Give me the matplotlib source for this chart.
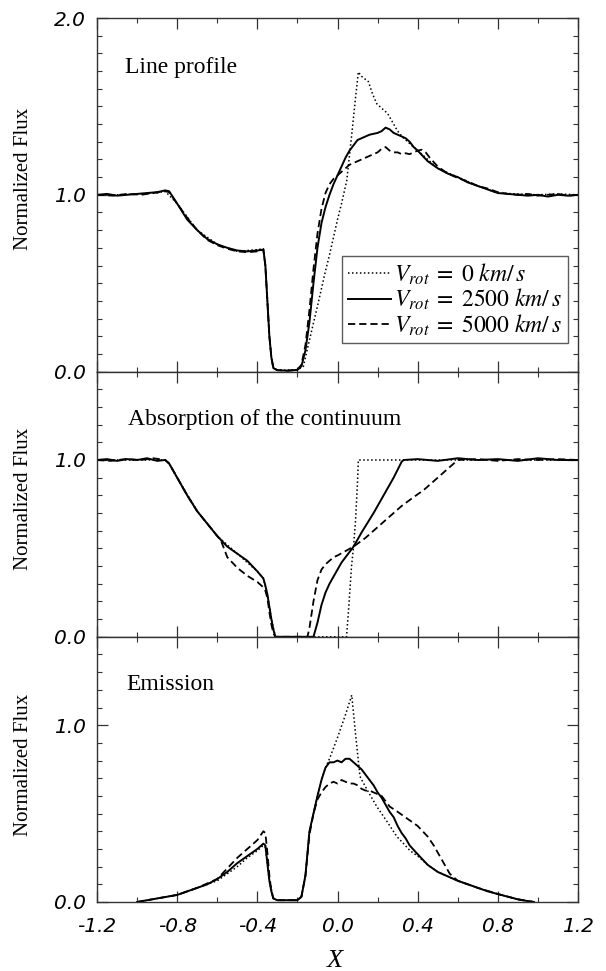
import matplotlib
matplotlib.use("Agg")
import matplotlib.pyplot as plt
from matplotlib.ticker import MultipleLocator, FixedLocator, FormatStrFormatter

# ---------------- data ----------------
# Panel 1: line profile
lp_x_2500 = [-1.2, -1.15, -1.1, -1.05, -1.0, -0.95, -0.9, -0.86, -0.84, -0.8, -0.75, -0.7, -0.65, -0.6,
             -0.55, -0.5, -0.45, -0.4, -0.37, -0.36, -0.35, -0.34, -0.33, -0.32, -0.3, -0.25, -0.2,
             -0.18, -0.16, -0.14, -0.12, -0.1, -0.08, -0.06, -0.04, -0.02, 0.0, 0.02, 0.04, 0.06,
             0.08, 0.1, 0.12, 0.14, 0.16, 0.18, 0.2, 0.22, 0.24, 0.26, 0.28, 0.3, 0.32, 0.34, 0.36,
             0.38, 0.4, 0.45, 0.5, 0.55, 0.6, 0.65, 0.7, 0.75, 0.8, 0.85, 0.9, 0.95, 1.0, 1.05,
             1.1, 1.15, 1.2]
lp_y_2500 = [1.0, 1.005, 0.995, 1.0, 1.005, 1.01, 1.015, 1.025, 1.02, 0.95, 0.86, 0.8, 0.75, 0.72,
             0.7, 0.685, 0.68, 0.685, 0.69, 0.6, 0.4, 0.2, 0.08, 0.02, 0.008, 0.005, 0.01,
             0.03, 0.12, 0.28, 0.5, 0.7, 0.84, 0.93, 1.0, 1.06, 1.11, 1.16, 1.21, 1.25,
             1.28, 1.31, 1.32, 1.33, 1.34, 1.345, 1.35, 1.36, 1.38, 1.37, 1.35, 1.34, 1.33, 1.32, 1.3,
             1.27, 1.25, 1.19, 1.15, 1.12, 1.1, 1.07, 1.05, 1.03, 1.01, 1.005, 1.0, 0.995, 1.0, 0.99,
             1.0, 0.995, 1.0]
lp_x_0 = [-1.2, -1.1, -1.0, -0.9, -0.86, -0.8, -0.7, -0.6, -0.5, -0.4, -0.37, -0.36, -0.34, -0.33,
          -0.32, -0.3, -0.2, -0.17, -0.154, -0.12, -0.1, -0.08, -0.06, -0.04, -0.02, 0.0, 0.02,
          0.046, 0.07, 0.09, 0.104, 0.12, 0.154, 0.175, 0.196, 0.23, 0.25, 0.28, 0.3, 0.33,
          0.36, 0.4, 0.45, 0.5, 0.6, 0.7, 0.8, 0.9, 1.0, 1.1, 1.2]
lp_y_0 = [1.0, 1.0, 1.005, 1.01, 1.02, 0.95, 0.8, 0.72, 0.68, 0.69, 0.695, 0.6, 0.2, 0.08,
          0.02, 0.008, 0.01, 0.03, 0.11, 0.275, 0.37, 0.47, 0.57, 0.66, 0.76, 0.86, 0.95,
          1.08, 1.33, 1.55, 1.695, 1.67, 1.64, 1.57, 1.515, 1.48, 1.46, 1.4, 1.36, 1.32,
          1.29, 1.25, 1.2, 1.15, 1.1, 1.05, 1.01, 1.005, 1.0, 1.005, 1.0]
lp_x_5000 = [-1.2, -1.12, -1.05, -0.98, -0.92, -0.86, -0.84, -0.8, -0.75, -0.7, -0.65, -0.6, -0.55,
             -0.5, -0.45, -0.4, -0.37, -0.36, -0.35, -0.34, -0.33, -0.32, -0.3, -0.25, -0.2,
             -0.18, -0.16, -0.14, -0.12, -0.1, -0.08, -0.06, -0.04, -0.02, 0.0, 0.02, 0.04,
             0.06, 0.08, 0.1, 0.12, 0.14, 0.16, 0.18, 0.2, 0.22, 0.24, 0.26, 0.28, 0.3, 0.32,
             0.34, 0.36, 0.38, 0.4, 0.42, 0.44, 0.46, 0.5, 0.55, 0.6, 0.65, 0.7, 0.75, 0.8,
             0.85, 0.9, 0.95, 1.0, 1.05, 1.1, 1.15, 1.2]
lp_y_5000 = [1.0, 0.995, 1.005, 1.0, 1.01, 1.02, 1.015, 0.95, 0.87, 0.8, 0.745, 0.715, 0.695,
             0.68, 0.675, 0.68, 0.69, 0.6, 0.4, 0.2, 0.08, 0.02, 0.008, 0.005, 0.01,
             0.04, 0.15, 0.35, 0.58, 0.78, 0.92, 1.01, 1.06, 1.09, 1.11, 1.13, 1.15,
             1.17, 1.18, 1.19, 1.2, 1.21, 1.22, 1.23, 1.24, 1.26, 1.27, 1.25, 1.24, 1.24, 1.23,
             1.235, 1.23, 1.24, 1.25, 1.255, 1.24, 1.21, 1.16, 1.12, 1.095, 1.075, 1.05, 1.035, 1.015,
             1.005, 1.0, 1.005, 0.995, 1.0, 1.005, 0.995, 1.0]

# Panel 2: absorption of the continuum
ab_x_2500 = [-1.2, -1.15, -1.1, -1.05, -1.0, -0.95, -0.9, -0.86, -0.84, -0.8, -0.75, -0.7, -0.65,
             -0.6, -0.55, -0.5, -0.45, -0.4, -0.37, -0.36, -0.35, -0.34, -0.33, -0.32, -0.31,
             -0.12, -0.1, -0.08, -0.06, -0.04, -0.02, 0.0, 0.02, 0.04, 0.06, 0.08, 0.12, 0.18,
             0.24, 0.28, 0.32, 0.33, 0.4, 0.5, 0.6, 0.7, 0.8, 0.9, 1.0, 1.1, 1.2]
ab_y_2500 = [1.0, 1.005, 0.995, 1.005, 1.0, 1.01, 0.995, 1.0, 0.98, 0.9, 0.8, 0.71, 0.64,
             0.57, 0.51, 0.47, 0.43, 0.37, 0.33, 0.29, 0.24, 0.17, 0.1, 0.04, 0.0,
             0.0, 0.08, 0.18, 0.25, 0.3, 0.34, 0.38, 0.42, 0.45, 0.48, 0.51, 0.59, 0.7,
             0.82, 0.9, 0.99, 1.0, 1.005, 0.995, 1.01, 1.0, 1.005, 0.995, 1.01, 1.0, 1.0]
ab_x_0 = [-1.2, -1.0, -0.86, -0.84, -0.8, -0.7, -0.6, -0.5, -0.4, -0.37, -0.35, -0.33, -0.31,
          0.045, 0.055, 0.07, 0.08, 0.09, 0.1, 0.104, 0.2, 0.32, 0.5, 0.8, 1.2]
ab_y_0 = [1.0, 1.0, 1.0, 0.98, 0.9, 0.71, 0.57, 0.47, 0.37, 0.33, 0.24, 0.1, 0.0,
          0.0, 0.15, 0.4, 0.51, 0.66, 0.88, 1.0, 1.0, 1.0, 1.0, 1.0, 1.0]
ab_x_5000 = [-1.2, -1.13, -1.06, -0.98, -0.92, -0.86, -0.84, -0.8, -0.75, -0.7, -0.65, -0.6, -0.58,
             -0.55, -0.5, -0.45, -0.4, -0.37, -0.36, -0.35, -0.34, -0.33, -0.32, -0.31,
             -0.15, -0.14, -0.12, -0.1, -0.08, -0.06, -0.04, -0.02, 0.0, 0.04, 0.08, 0.14, 0.2,
             0.26, 0.32, 0.38, 0.43, 0.48, 0.52, 0.56, 0.58, 0.6, 0.7, 0.8, 0.9, 1.0, 1.1, 1.2]
ab_y_5000 = [1.0, 0.995, 1.005, 1.0, 1.01, 1.0, 0.98, 0.9, 0.8, 0.71, 0.64, 0.57, 0.54,
             0.45, 0.39, 0.345, 0.31, 0.28, 0.26, 0.22, 0.14, 0.07, 0.02, 0.0,
             0.0, 0.05, 0.2, 0.32, 0.38, 0.41, 0.43, 0.45, 0.46, 0.485, 0.51, 0.56, 0.62,
             0.68, 0.74, 0.79, 0.83, 0.88, 0.92, 0.96, 0.98, 1.0, 1.005, 0.995, 1.005, 1.0, 1.005, 1.0]

# Panel 3: emission
em_x_2500 = [-1.0, -0.95, -0.9, -0.85, -0.8, -0.75, -0.7, -0.65, -0.6, -0.55, -0.5, -0.45, -0.4,
             -0.37, -0.36, -0.35, -0.34, -0.33, -0.32, -0.3, -0.25, -0.2, -0.18, -0.16, -0.14,
             -0.12, -0.1, -0.08, -0.06, -0.04, -0.02, 0.0, 0.02, 0.04, 0.06, 0.08, 0.1, 0.12,
             0.14, 0.16, 0.18, 0.2, 0.22, 0.24, 0.26, 0.28, 0.3, 0.32, 0.34, 0.36, 0.4, 0.45,
             0.5, 0.55, 0.6, 0.65, 0.7, 0.75, 0.8, 0.85, 0.9, 0.95, 0.98]
em_y_2500 = [0.0, 0.01, 0.02, 0.03, 0.04, 0.06, 0.08, 0.1, 0.13, 0.17, 0.22, 0.26, 0.3,
             0.33, 0.32, 0.22, 0.12, 0.06, 0.02, 0.01, 0.01, 0.01, 0.03, 0.15, 0.4,
             0.5, 0.6, 0.69, 0.76, 0.79, 0.79, 0.8, 0.79, 0.81, 0.81, 0.79, 0.77, 0.75,
             0.72, 0.69, 0.66, 0.62, 0.59, 0.55, 0.51, 0.48, 0.43, 0.39, 0.36, 0.32, 0.27, 0.21,
             0.17, 0.145, 0.12, 0.1, 0.08, 0.06, 0.045, 0.03, 0.015, 0.005, 0.0]
em_x_0 = [-1.0, -0.9, -0.8, -0.7, -0.6, -0.55, -0.5, -0.45, -0.4, -0.37, -0.36, -0.34, -0.32,
          -0.3, -0.2, -0.18, -0.16, -0.14, -0.12, -0.1, -0.08, -0.06, -0.04, 0.0, 0.04, 0.071,
          0.09, 0.112, 0.15, 0.196, 0.25, 0.296, 0.33, 0.362, 0.4, 0.45, 0.5, 0.6, 0.7, 0.8,
          0.9, 0.98]
em_y_0 = [0.0, 0.02, 0.04, 0.08, 0.12, 0.16, 0.2, 0.25, 0.29, 0.32, 0.31, 0.12, 0.02,
          0.01, 0.01, 0.03, 0.15, 0.4, 0.5, 0.6, 0.69, 0.76, 0.81, 0.93, 1.06, 1.17,
          0.95, 0.71, 0.63, 0.54, 0.45, 0.37, 0.33, 0.29, 0.26, 0.21, 0.17, 0.12, 0.08, 0.045,
          0.015, 0.0]
em_x_5000 = [-1.0, -0.9, -0.8, -0.7, -0.6, -0.55, -0.5, -0.45, -0.4, -0.37, -0.36, -0.35, -0.34,
             -0.33, -0.32, -0.3, -0.2, -0.18, -0.16, -0.14, -0.12, -0.1, -0.08, -0.06, -0.04,
             -0.02, 0.0, 0.02, 0.04, 0.06, 0.08, 0.1, 0.12, 0.14, 0.16, 0.18, 0.2, 0.22, 0.24,
             0.26, 0.3, 0.35, 0.4, 0.45, 0.48, 0.52, 0.56, 0.6, 0.65, 0.7, 0.8, 0.9, 0.98]
em_y_5000 = [0.0, 0.02, 0.04, 0.08, 0.13, 0.19, 0.25, 0.3, 0.35, 0.4, 0.39, 0.28, 0.15,
             0.06, 0.02, 0.01, 0.01, 0.03, 0.15, 0.38, 0.5, 0.58, 0.62, 0.65, 0.67,
             0.68, 0.67, 0.69, 0.68, 0.67, 0.67, 0.66, 0.64, 0.63, 0.63, 0.62, 0.61, 0.6, 0.57,
             0.54, 0.51, 0.47, 0.43, 0.37, 0.32, 0.24, 0.16, 0.12, 0.1, 0.08, 0.045, 0.015, 0.0]

panel_titles = ["Line profile", "Absorption of the continuum", "Emission"]
legend_labels = [r"$V_{rot}\;=\;0\ km/\,s$", r"$V_{rot}\;=\;2500\ km/\,s$",
                 r"$V_{rot}\;=\;5000\ km/\,s$"]
x_ticks = [-1.2, -0.8, -0.4, 0.0, 0.4, 0.8, 1.2]
y_ticks_top = [0.0, 1.0, 2.0]
y_ticks_low = [0.0, 1.0]

# ---------------- figure ----------------
plt.rcParams['mathtext.fontset'] = 'stix'
fig = plt.figure(figsize=(6.06, 9.71), dpi=100)
gs = fig.add_gridspec(3, 1, height_ratios=[2.0, 1.5, 1.5], hspace=0,
                      left=0.1601, right=0.9538, top=0.98146, bottom=0.07107)
axes = [fig.add_subplot(gs[i]) for i in range(3)]

styles = {
    "0": dict(color="black", lw=1.1, linestyle=(0, (1, 1.6))),
    "2500": dict(color="black", lw=1.4, linestyle="-"),
    "5000": dict(color="black", lw=1.3, linestyle=(0, (4, 2.2))),
}
panels = [
    ((lp_x_0, lp_y_0), (lp_x_2500, lp_y_2500), (lp_x_5000, lp_y_5000)),
    ((ab_x_0, ab_y_0), (ab_x_2500, ab_y_2500), (ab_x_5000, ab_y_5000)),
    ((em_x_0, em_y_0), (em_x_2500, em_y_2500), (em_x_5000, em_y_5000)),
]
ylims = [(0, 2.0), (0, 1.5), (0, 1.5)]
title_pos = [(0.058, 0.845), (0.064, 0.80), (0.06, 0.80)]
tick_font = dict(family="DejaVu Sans", style="oblique", size=14.5)

for i, ax in enumerate(axes):
    (x0, y0), (x1, y1), (x2, y2) = panels[i]
    ax.plot(x0, y0, label=legend_labels[0], **styles["0"])
    ax.plot(x1, y1, label=legend_labels[1], **styles["2500"])
    ax.plot(x2, y2, label=legend_labels[2], **styles["5000"])
    ax.set_xlim(-1.2, 1.2)
    ax.set_ylim(*ylims[i])
    ax.xaxis.set_major_locator(FixedLocator(x_ticks))
    ax.xaxis.set_minor_locator(MultipleLocator(0.2))
    ax.yaxis.set_major_locator(FixedLocator(y_ticks_top if i == 0 else y_ticks_low))
    ax.yaxis.set_minor_locator(MultipleLocator(0.1))
    ax.yaxis.set_major_formatter(FormatStrFormatter("%.1f"))
    ax.xaxis.set_major_formatter(FormatStrFormatter("%.1f"))
    ax.tick_params(which="both", direction="in", top=True, right=True, color="#333333")
    ax.tick_params(which="major", length=8, width=0.9)
    ax.tick_params(which="minor", length=3.5, width=0.8)
    ax.tick_params(axis="y", pad=8)
    ax.tick_params(axis="x", pad=11)
    for sp in ax.spines.values():
        sp.set_color("#333333")
        sp.set_linewidth(1.0)
    for lab in ax.get_yticklabels():
        lab.set_fontproperties(matplotlib.font_manager.FontProperties(**tick_font))
    if i < 2:
        ax.tick_params(axis="x", labelbottom=False)
    else:
        for lab in ax.get_xticklabels():
            lab.set_fontproperties(matplotlib.font_manager.FontProperties(**tick_font))
    tx, ty = title_pos[i]
    ax.text(tx, ty, panel_titles[i], transform=ax.transAxes, va="baseline", ha="left",
            family="Liberation Serif", fontsize=17)

leg = axes[0].legend(loc="lower right", bbox_to_anchor=(0.979, 0.0795), borderaxespad=0,
                     fontsize=17, frameon=True, fancybox=False, edgecolor="#333333",
                     handlelength=1.8, handletextpad=0.15, labelspacing=0.0,
                     borderpad=0.25)
leg.get_frame().set_linewidth(1.0)

for yc in (0.8157, 0.4861, 0.2122):
    fig.text(0.038, yc, "Normalized Flux", rotation=90, ha="center", va="center",
             family="Liberation Serif", fontsize=15)
fig.text(0.553, 0.0103, "X", ha="center", va="center", family="Liberation Serif",
         style="italic", fontsize=19)

fig.savefig("out.png", dpi=100)
